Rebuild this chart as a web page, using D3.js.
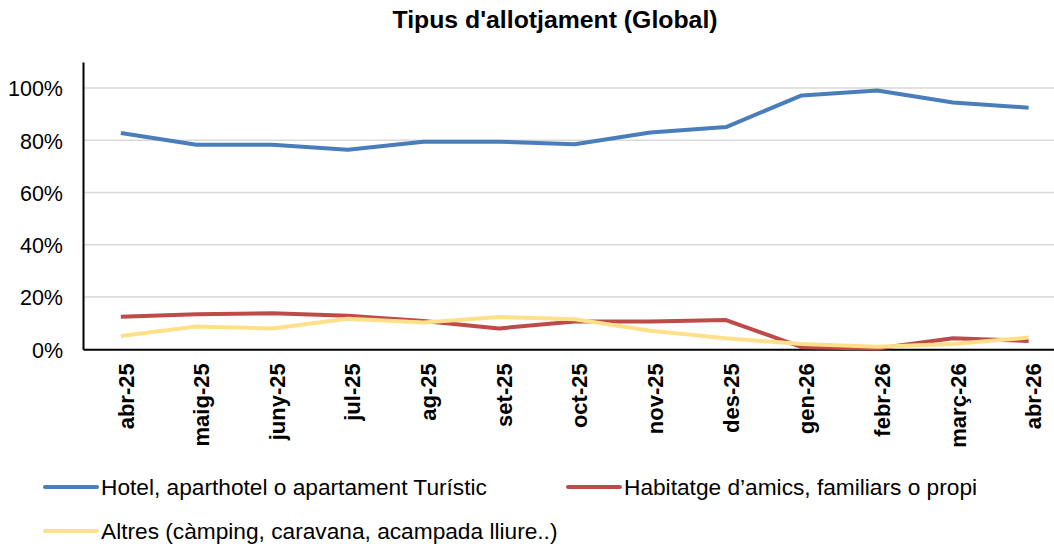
<!DOCTYPE html>
<html>
<head>
<meta charset="utf-8">
<script src="https://cdn.jsdelivr.net/npm/d3@7"></script>
<style>
  body { margin: 0; background: #fff; }
  text { font-family: "Liberation Sans", Arial, sans-serif; fill: #000; }
</style>
</head>
<body>
<div id="chart"></div>
<script>
var months = ["abr-25", "maig-25", "juny-25", "jul-25", "ag-25", "set-25", "oct-25",
  "nov-25", "des-25", "gen-26", "febr-26", "març-26", "abr-26"];

var hotel  = [82.8, 78.3, 78.3, 76.4, 79.5, 79.5, 78.5, 83.0, 85.1, 97.2, 99.1, 94.5, 92.5];
var amics  = [12.5, 13.4, 13.8, 12.8, 10.8, 8.0, 10.6, 10.6, 11.2, 0.8, 0.3, 4.2, 3.2];
var altres = [5.1, 8.7, 8.0, 11.7, 10.3, 12.4, 11.5, 7.1, 4.2, 2.0, 1.0, 2.0, 4.5];

var seriesNames  = ["Hotel, aparthotel o apartament Turístic",
  "Habitatge d\u2019amics, familiars o propi",
  "Altres (càmping, caravana, acampada lliure..)"];
var seriesColors = ["#4A7EBB", "#BE4B48", "#FFE08A"];

var yTicks = [0, 20, 40, 60, 80, 100];

var svgWidth = 1054;
var svgHeight = 548;

var svg = d3.select("#chart")
  .append("svg")
  .attr("width", svgWidth)
  .attr("height", svgHeight);

var plotLeft = 83, plotTop = 62, plotBottom = 349.3;

var x = d3.scaleBand()
  .domain(months)
  .range([plotLeft, plotLeft + 13 * 75.65]);

var y = d3.scaleLinear()
  .domain([0, 110])
  .range([plotBottom, plotTop]);

// title
svg.append("text")
  .attr("x", 555)
  .attr("y", 28)
  .attr("text-anchor", "middle")
  .style("font-size", "24.8px")
  .style("font-weight", "bold")
  .text("Tipus d'allotjament (Global)");

// gridlines
svg.append("g")
  .selectAll("line")
  .data(yTicks.filter(d => d > 0))
  .enter()
  .append("line")
  .attr("x1", plotLeft)
  .attr("x2", svgWidth)
  .attr("y1", d => y(d))
  .attr("y2", d => y(d))
  .attr("stroke", "#d9d9d9")
  .attr("stroke-width", 1.5);

// y axis
var yAxis = svg.append("g")
  .attr("transform", `translate(${plotLeft}, 0)`)
  .call(d3.axisLeft(y).tickValues(yTicks).tickSize(0).tickPadding(20).tickFormat(d => d + "%"));
yAxis.select(".domain").attr("stroke", "#000").attr("stroke-width", 2);
yAxis.selectAll("text")
  .style("font-size", "21.5px")
  .attr("dy", "0.36em");

// x axis
var xAxis = svg.append("g")
  .attr("transform", `translate(0, ${plotBottom})`)
  .call(d3.axisBottom(x).tickSize(0).tickPadding(0));
xAxis.select(".domain").attr("stroke", "#000").attr("stroke-width", 2);
xAxis.selectAll("text")
  .style("font-size", "22px")
  .style("font-weight", "bold")
  .attr("text-anchor", "end")
  .attr("transform", "rotate(-90)")
  .attr("x", -14)
  .attr("y", 5)
  .attr("dy", "0.35em");

// lines
var allSeries = [hotel, amics, altres];
var line = d3.line()
  .x((d, i) => x(months[i]) + x.bandwidth() / 2)
  .y(d => y(d));

svg.append("g")
  .selectAll("path")
  .data(allSeries)
  .enter()
  .append("path")
  .attr("d", d => line(d))
  .attr("fill", "none")
  .attr("stroke", (d, i) => seriesColors[i])
  .attr("stroke-width", 4)
  .attr("stroke-linejoin", "round");

// legend
var legendPos = [[45, 487], [568, 487], [45, 531]];
var legend = svg.append("g")
  .selectAll("g")
  .data(seriesNames)
  .enter()
  .append("g")
  .attr("transform", (d, i) => `translate(${legendPos[i][0]}, ${legendPos[i][1]})`);

legend.append("line")
  .attr("x1", 0)
  .attr("x2", 52)
  .attr("stroke", (d, i) => seriesColors[i])
  .attr("stroke-width", 4)
  .attr("stroke-linecap", "round");

legend.append("text")
  .attr("x", 56)
  .attr("dy", "0.35em")
  .style("font-size", "22.7px")
  .text(d => d);
</script>
</body>
</html>
